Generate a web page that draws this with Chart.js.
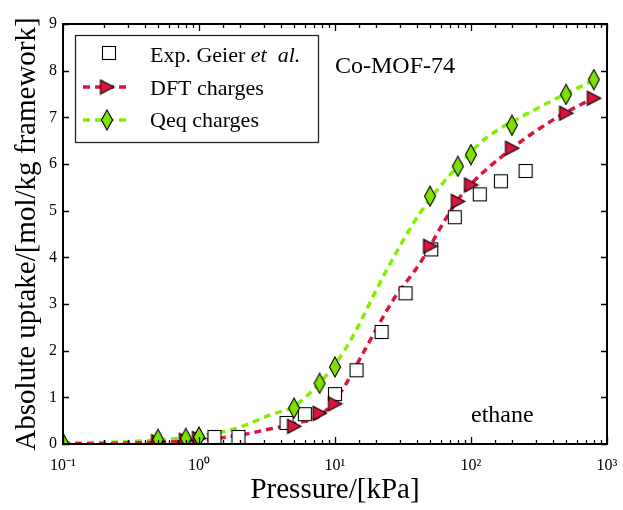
<!DOCTYPE html>
<html>
<head>
<meta charset="utf-8">
<script src="https://cdn.jsdelivr.net/npm/chart.js@4.4.1/dist/chart.umd.min.js"></script>
<style>
  html, body { margin: 0; padding: 0; background: #fff; }
  #wrap { width: 623px; height: 510px; }
</style>
</head>
<body>
<div id="wrap"><canvas id="isoChart" width="623" height="510"></canvas></div>
<script>
// experimental points (Geier et al.)
const expP = [1.3, 1.95, 4.4, 6.0, 10, 14.4, 22, 33, 51, 76, 116, 166, 252];
const expQ = [0.15, 0.15, 0.45, 0.64, 1.07, 1.58, 2.40, 3.23, 4.17, 4.86, 5.35, 5.63, 5.85];

// simulated points, same pressures for both charge sets
const simP = [0.1, 0.5, 0.8, 1, 5, 7.7, 10, 50, 80, 100, 200, 500, 800];
const dftQ = [0.01, 0.05, 0.08, 0.12, 0.38, 0.66, 0.86, 4.24, 5.20, 5.55, 6.34, 7.09, 7.41];
const qeqQ = [0.02, 0.10, 0.12, 0.15, 0.77, 1.30, 1.65, 5.31, 5.95, 6.20, 6.83, 7.49, 7.81];

// dashed fit curves
const dftFitP = [0.1, 0.3, 1, 2, 3.3, 5.25, 7.7, 10.9, 16.1, 26.7, 42, 67.6, 87, 184, 398, 800];
const dftFitQ = [0.0, 0.02, 0.08, 0.19, 0.32, 0.45, 0.60, 1.09, 1.95, 3.08, 3.87, 4.90, 5.37, 6.25, 6.94, 7.42];
const qeqFitP = [0.1, 0.3, 1, 2, 3.3, 5, 8.4, 12.2, 24, 42, 98, 131, 321, 800];
const qeqFitQ = [0.02, 0.05, 0.17, 0.36, 0.62, 0.81, 1.43, 2.08, 3.73, 4.94, 6.23, 6.57, 7.22, 7.80];

// axis ticks
const xTickValues = [0.1, 1, 10, 100, 1000];
const xTickLabels = ['10\u207B\u00B9', '10\u2070', '10\u00B9', '10\u00B2', '10\u00B3'];
const yTickValues = [0, 1, 2, 3, 4, 5, 6, 7, 8, 9];

const RED = '#dc143c';
const GREEN_LINE = '#84f000';
const GREEN_FILL = '#7ee000';
const SERIF = '"Liberation Serif", "Times New Roman", serif';

function makeMarker(w, h, draw) {
  const c = document.createElement('canvas');
  c.width = w; c.height = h;
  const g = c.getContext('2d');
  g.lineWidth = 1.1;
  g.strokeStyle = '#000';
  draw(g, w, h);
  return c;
}

const squareImg = makeMarker(16, 16, g => {
  g.fillStyle = '#fff';
  g.fillRect(1.5, 1.5, 13, 13);
  g.strokeRect(1.5, 1.5, 13, 13);
});
const triImg = makeMarker(17, 17, g => {
  g.beginPath();
  g.moveTo(2, 1.5); g.lineTo(15.5, 8.5); g.lineTo(2, 15.5); g.closePath();
  g.fillStyle = RED; g.fill(); g.stroke();
});
const diaImg = makeMarker(14, 22, g => {
  g.beginPath();
  g.moveTo(7, 1); g.lineTo(12.5, 11); g.lineTo(7, 21); g.lineTo(1.5, 11); g.closePath();
  g.fillStyle = GREEN_FILL; g.fill(); g.stroke();
});

function pts(xs, ys) {
  return xs.map((v, i) => ({ x: v, y: ys[i] }));
}

function isDecade(v) {
  const l = Math.log10(v);
  return Math.abs(l - Math.round(l)) < 1e-6;
}

const framePlugin = {
  id: 'frame',
  afterDraw(chart) {
    const { ctx, chartArea: a, scales: { x, y } } = chart;
    ctx.save();
    ctx.strokeStyle = '#000';
    ctx.lineWidth = 1.3;
    ctx.beginPath();
    x.ticks.forEach(t => {
      const px = Math.round(x.getPixelForValue(t.value)) + 0.5;
      if (px < a.left || px > a.right + 1) return;
      const len = isDecade(t.value) ? 7 : 4;
      ctx.moveTo(px, a.bottom); ctx.lineTo(px, a.bottom - len);
      ctx.moveTo(px, a.top); ctx.lineTo(px, a.top + len);
    });
    y.ticks.forEach(t => {
      const py = Math.round(y.getPixelForValue(t.value)) + 0.5;
      ctx.moveTo(a.left, py); ctx.lineTo(a.left + 6, py);
      ctx.moveTo(a.right, py); ctx.lineTo(a.right - 6, py);
    });
    ctx.stroke();
    ctx.lineWidth = 2;
    ctx.strokeRect(a.left, a.top, a.right - a.left, a.bottom - a.top);

    // annotations
    ctx.fillStyle = '#000';
    ctx.textBaseline = 'alphabetic';
    ctx.font = '24px ' + SERIF;
    ctx.fillText('Co-MOF-74', 335, 73);
    ctx.fillText('ethane', 471, 422);

    // legend
    ctx.lineWidth = 1.3;
    ctx.strokeStyle = '#222';
    ctx.strokeRect(75.5, 35.5, 243, 107);
    ctx.drawImage(squareImg, 109 - 8, 53 - 8);
    ctx.lineWidth = 3.5;
    ctx.setLineDash([7, 5]);
    ctx.strokeStyle = RED;
    ctx.beginPath(); ctx.moveTo(83, 87); ctx.lineTo(131, 87); ctx.stroke();
    ctx.strokeStyle = GREEN_LINE;
    ctx.beginPath(); ctx.moveTo(83, 120); ctx.lineTo(131, 120); ctx.stroke();
    ctx.setLineDash([]);
    ctx.drawImage(triImg, 107 - 8.5, 87 - 8.5);
    ctx.drawImage(diaImg, 107 - 7, 120 - 11);
    ctx.font = '22px ' + SERIF;
    const lead = 'Exp. Geier ';
    ctx.fillText(lead, 150, 62);
    const w = ctx.measureText(lead).width;
    ctx.font = 'italic 22px ' + SERIF;
    ctx.fillText('et  al.', 150 + w, 62);
    ctx.font = '22px ' + SERIF;
    ctx.fillText('DFT charges', 150, 95);
    ctx.fillText('Qeq charges', 150, 127);
    ctx.restore();
  }
};

new Chart(document.getElementById('isoChart'), {
  type: 'line',
  data: {
    datasets: [
      {
        label: 'Qeq charges',
        data: pts(simP, qeqQ),
        showLine: false,
        pointStyle: diaImg,
        pointRadius: 7,
        order: 0
      },
      {
        label: 'DFT charges',
        data: pts(simP, dftQ),
        showLine: false,
        pointStyle: triImg,
        pointRadius: 7,
        order: 1
      },
      {
        label: 'Exp. Geier et al.',
        data: pts(expP, expQ),
        showLine: false,
        pointStyle: squareImg,
        pointRadius: 7,
        order: 2
      },
      {
        label: 'DFT fit',
        data: pts(dftFitP, dftFitQ),
        borderColor: RED,
        borderWidth: 3.5,
        borderDash: [7, 5],
        pointRadius: 0,
        cubicInterpolationMode: 'monotone',
        fill: false,
        order: 3
      },
      {
        label: 'Qeq fit',
        data: pts(qeqFitP, qeqFitQ),
        borderColor: GREEN_LINE,
        borderWidth: 3.5,
        borderDash: [7, 5],
        pointRadius: 0,
        cubicInterpolationMode: 'monotone',
        fill: false,
        order: 4
      }
    ]
  },
  options: {
    responsive: false,
    animation: false,
    layout: { padding: { top: 24, right: 16, left: 0, bottom: 0 } },
    plugins: {
      legend: { display: false },
      tooltip: { enabled: false }
    },
    scales: {
      x: {
        type: 'logarithmic',
        min: 0.1,
        max: 1000,
        grid: { display: false, drawTicks: false },
        border: { display: false },
        ticks: {
          autoSkip: false,
          maxRotation: 0,
          padding: 12,
          color: '#000',
          font: { family: SERIF, size: 16 },
          callback: function(value) {
            const i = xTickValues.findIndex(v => Math.abs(v - value) < v * 1e-6);
            return i >= 0 ? xTickLabels[i] : '';
          }
        },
        title: {
          display: true,
          text: 'Pressure/[kPa]',
          color: '#000',
          font: { family: SERIF, size: 29 },
          padding: { top: 0, bottom: 2 }
        },
        afterFit: function(scale) {
          scale.height = 66;
          scale.paddingLeft = 0;
          scale.paddingRight = 0;
        }
      },
      y: {
        min: 0,
        max: 9,
        grid: { display: false, drawTicks: false },
        border: { display: false },
        afterBuildTicks: function(scale) {
          scale.ticks = yTickValues.map(v => ({ value: v }));
        },
        ticks: {
          padding: 6,
          color: '#000',
          font: { family: SERIF, size: 16 }
        },
        title: {
          display: true,
          text: 'Absolute uptake/[mol/kg framework]',
          color: '#000',
          font: { family: SERIF, size: 29 },
          padding: { top: 10, bottom: 0 }
        },
        afterFit: function(scale) {
          scale.width = 63;
          scale.paddingTop = 0;
          scale.paddingBottom = 0;
        }
      }
    }
  },
  plugins: [framePlugin]
});
</script>
</body>
</html>
